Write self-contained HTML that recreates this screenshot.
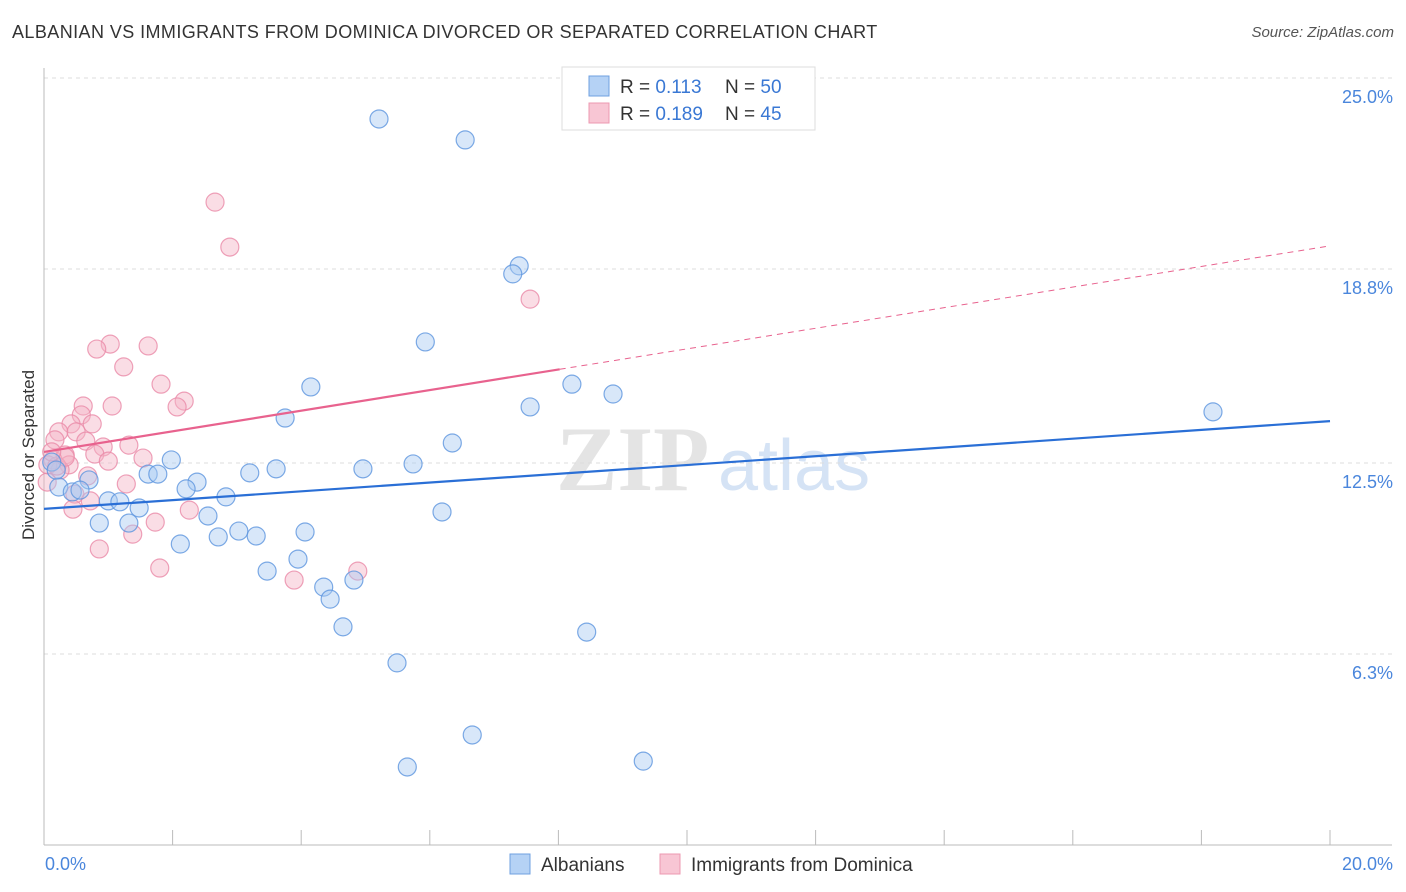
<!DOCTYPE html>
<html><head><meta charset="utf-8">
<style>
body{margin:0;background:#fff;font-family:"Liberation Sans",sans-serif;}
#wrap{position:relative;width:1406px;height:892px;overflow:hidden;}
.title{position:absolute;left:12px;top:22px;font-size:18px;color:#333;letter-spacing:0.42px;}
.source{position:absolute;right:12px;top:24px;font-size:15px;color:#555;font-style:italic;}
</style></head>
<body>
<div id="wrap">
<div class="title">ALBANIAN VS IMMIGRANTS FROM DOMINICA DIVORCED OR SEPARATED CORRELATION CHART</div>
<div class="source">Source: ZipAtlas.com</div>
<svg id="svg" width="1406" height="892" style="position:absolute;left:0;top:0"></svg>
</div>
<script>
const yTicks=[25.0,18.8,12.5,6.3];
const yTickLabels=["25.0%","18.8%","12.5%","6.3%"];
const xTickLabels=["0.0%","20.0%"];
const albX=[5.21,6.55,7.39,7.29,5.93,4.15,8.21,8.85,7.56,3.75,6.35,18.18,1.98,1.62,1.77,3.20,3.61,4.96,5.74,2.38,2.21,0.70,0.23,0.44,0.56,1.00,1.18,1.48,2.83,2.55,6.19,0.86,1.32,3.03,3.30,2.71,4.06,2.12,3.95,3.47,4.35,4.82,4.45,4.65,8.44,5.49,6.66,5.65,9.32,0.12,0.19];
const albY=[23.67,22.99,18.90,18.64,16.43,14.97,15.06,14.74,14.32,13.96,13.15,14.16,12.60,12.14,12.14,12.18,12.31,12.31,12.47,11.88,11.66,11.95,11.72,11.56,11.62,11.27,11.24,11.04,11.40,10.78,10.91,10.55,10.55,10.29,10.13,10.10,10.26,9.87,9.38,8.99,8.47,8.70,8.08,7.18,7.01,6.01,3.67,2.63,2.82,12.53,12.27];
const domX=[2.66,2.89,7.56,1.03,0.82,1.62,1.24,1.82,2.18,2.07,0.61,1.06,0.58,0.42,0.75,0.23,0.50,1.32,0.65,0.17,0.92,0.33,0.79,1.00,0.14,0.39,0.25,0.68,1.54,1.28,0.48,0.72,2.26,0.45,1.38,1.73,0.86,1.80,3.89,4.88,0.05,0.06,0.20,0.33,0.12];
const domY=[20.97,19.51,17.82,16.36,16.20,16.30,15.62,15.06,14.51,14.32,14.35,14.35,14.06,13.77,13.77,13.51,13.51,13.08,13.21,13.25,13.02,12.76,12.79,12.56,12.60,12.44,12.27,12.08,12.66,11.82,11.49,11.27,10.97,11.00,10.19,10.58,9.71,9.09,8.70,8.99,11.88,12.44,12.40,12.69,12.86];
const albTrend=[11.01,13.86];
const domTrend=[12.86,19.55];
const domSolidEnd=8.02;

const NS="http://www.w3.org/2000/svg";
const svg=document.getElementById('svg');
const X0=44,X1=1330,Y0=848,YTOP=78;
const xs=v=>X0+v/20*(X1-X0);
const ys=v=>Y0-v/25*(Y0-YTOP);
function mk(t,a){const e=document.createElementNS(NS,t);for(const k in a)e.setAttribute(k,a[k]);svg.appendChild(e);return e;}

let wm=mk('text',{x:556,y:490,'font-size':92,'font-family':'Liberation Serif, serif',fill:'#e4e4e4','font-weight':'bold'});


wm.textContent='ZIP';
let wm2=mk('text',{x:718,y:490,'font-size':72,'font-family':'Liberation Sans, sans-serif',fill:'#d5e3f5'});


wm2.textContent='atlas';

yTicks.forEach((v,i)=>{
  const y=ys(v);
  const g=mk('line',{x1:X0,x2:1392,y1:y,y2:y,stroke:'#dddddd','stroke-dasharray':'4,4','stroke-width':1});
  
  
  const t=mk('text',{x:1393,y:y+25,'text-anchor':'end','font-size':18,fill:'#4a86dc'});
  
  
  t.textContent=yTickLabels[i];
});
let ax=mk('line',{x1:X0,x2:X0,y1:68,y2:Y0-3,stroke:'#bbb','stroke-width':1});


let bx=mk('line',{x1:X0,x2:1392,y1:845,y2:845,stroke:'#bbb','stroke-width':1});


for(let i=0;i<=10;i++){
  const x=xs(i*2);
  const tk=mk('line',{x1:x,x2:x,y1:830,y2:845,stroke:'#bbb','stroke-width':1});
  
  
}
[[0,'start',45],[20,'end',1393]].forEach((p,i)=>{
  const t=mk('text',{x:p[2],y:870,'text-anchor':p[1],'font-size':18,fill:'#4a86dc'});
  
  
  t.textContent=xTickLabels[i];
});
let yt=mk('text',{x:34,y:455,'text-anchor':'middle','font-size':17,fill:'#333',transform:'rotate(-90 34 455)'});


yt.textContent='Divorced or Separated';

function pts(xa,ya,fill,stroke,name){
  xa.forEach((v,i)=>{
    const c=mk('circle',{cx:xs(v),cy:ys(ya[i]),r:9,fill:fill,'fill-opacity':0.45,stroke:stroke,'stroke-opacity':0.8,'stroke-width':1.2});
    
    
  });
}
pts(domX,domY,'#f5b3c6','#ea8aa8','point-dominica');
pts(albX,albY,'#a9c9f2','#5d95de','point-albanian');

let tb=mk('line',{x1:xs(0),y1:ys(albTrend[0]),x2:xs(20),y2:ys(albTrend[1]),stroke:'#2a6fd6','stroke-width':2.2});


const pAt=x=>domTrend[0]+(domTrend[1]-domTrend[0])*x/20;
let tp=mk('line',{x1:xs(0),y1:ys(pAt(0)),x2:xs(domSolidEnd),y2:ys(pAt(domSolidEnd)),stroke:'#e8628e','stroke-width':2.2});


let tpd=mk('line',{x1:xs(domSolidEnd),y1:ys(pAt(domSolidEnd)),x2:xs(20),y2:ys(pAt(20)),stroke:'#e8628e','stroke-width':1,'stroke-dasharray':'6,5'});



let lb=mk('rect',{x:562,y:67,width:253,height:63,fill:'#fff',stroke:'#ddd'});


[[86,'#b5d2f5','#6fa0e0','0.113','50'],[113,'#f8c6d4','#ec98b1','0.189','45']].forEach((r,i)=>{
  const s=mk('rect',{x:589,y:r[0]-10,width:20,height:20,fill:r[1],stroke:r[2]});
  
  
  const t=mk('text',{x:620,y:r[0]+7,'font-size':19,fill:'#333'});
  
  
  t.innerHTML='R = <tspan fill="#3a78d4">'+r[3]+'</tspan><tspan x="725">N = </tspan><tspan fill="#3a78d4">'+r[4]+'</tspan>';
});
[[510,'#b5d2f5','#6fa0e0','Albanians'],[660,'#f8c6d4','#ec98b1','Immigrants from Dominica']].forEach(r=>{
  const s=mk('rect',{x:r[0],y:854,width:20,height:20,fill:r[1],stroke:r[2]});
  
  
  const t=mk('text',{x:r[0]+31,y:871,'font-size':19,fill:'#333'});
  
  
  t.textContent=r[3];
});
</script>
</body></html>
